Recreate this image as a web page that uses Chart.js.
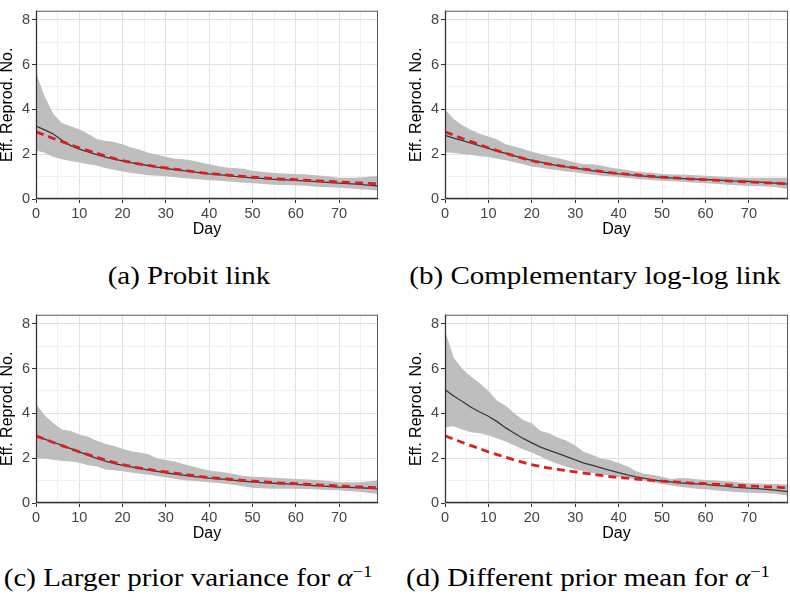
<!DOCTYPE html>
<html>
<head>
<meta charset="utf-8">
<script src="https://cdn.jsdelivr.net/npm/chart.js@4.4.0/dist/chart.umd.min.js"></script>
<style>
    body { margin: 0; background: #fff; width: 790px; height: 601px; position: relative; overflow: hidden; }
    .panel { position: absolute; }
    .cap {
        position: absolute; font-family: "Liberation Serif", serif; font-size: 25px; line-height: 1;
        color: #000; white-space: nowrap; transform: translateX(-50%) scaleX(1.16);
    }
</style>
</head>
<body>
<div class="panel" style="left:0px;top:0px;"><canvas id="pA" width="380" height="238"></canvas></div>
<div class="panel" style="left:409px;top:0px;"><canvas id="pB" width="381" height="238"></canvas></div>
<div class="panel" style="left:0px;top:304px;"><canvas id="pC" width="380" height="238"></canvas></div>
<div class="panel" style="left:409px;top:304px;"><canvas id="pD" width="381" height="238"></canvas></div>

<div class="cap" style="left:189px;top:263px;">(a) Probit link</div>
<div class="cap" style="left:595px;top:263px;">(b) Complementary log-log link</div>
<div class="cap" style="left:188px;top:564px;">(c) Larger prior variance for <i>α</i><sup style="font-size:16px;">−1</sup></div>
<div class="cap" style="left:588px;top:564px;">(d) Different prior mean for <i>α</i><sup style="font-size:16px;">−1</sup></div>

<script>
var days = [0, 2, 4, 6, 8, 10, 12, 14, 16, 18, 20, 22, 24, 26, 28, 30, 32, 34, 36, 38,
            40, 42, 44, 46, 48, 50, 52, 54, 56, 58, 60, 62, 64, 66, 68, 70, 72, 74, 76, 78, 79];
var xTicks = [0, 5, 10, 15, 20, 25, 30, 35, 40, 45, 50, 55, 60, 65, 70, 75];
var xLabels = [0, 10, 20, 30, 40, 50, 60, 70];
var yTicks = [0, 1, 2, 3, 4, 5, 6, 7, 8];
var yLabels = [0, 2, 4, 6, 8];

// true effective reproduction number (red dashed, same in every panel)
var trueR = [3.00, 2.85, 2.70, 2.56, 2.42, 2.28, 2.16, 2.04, 1.92, 1.81, 1.71, 1.63, 1.56, 1.50, 1.44, 1.39, 1.33, 1.28, 1.23, 1.18,
             1.14, 1.11, 1.07, 1.04, 1.01, 0.98, 0.95, 0.93, 0.90, 0.88, 0.86, 0.84, 0.82, 0.80, 0.78, 0.76, 0.74, 0.72, 0.71, 0.69, 0.68];

// (a) probit link
var probitMed = [3.25, 3.08, 2.90, 2.62, 2.38, 2.22, 2.10, 1.98, 1.87, 1.78, 1.70, 1.62, 1.55, 1.49, 1.42, 1.36, 1.31, 1.27, 1.22, 1.17,
                 1.12, 1.09, 1.05, 1.01, 0.98, 0.94, 0.92, 0.89, 0.87, 0.85, 0.83, 0.81, 0.79, 0.76, 0.73, 0.71, 0.69, 0.66, 0.63, 0.60, 0.58];
var probitHi = [5.63, 4.57, 3.79, 3.39, 3.25, 3.11, 2.91, 2.68, 2.60, 2.54, 2.44, 2.30, 2.20, 2.06, 1.97, 1.89, 1.80, 1.77, 1.72, 1.63,
                1.55, 1.47, 1.40, 1.37, 1.35, 1.26, 1.22, 1.18, 1.15, 1.13, 1.12, 1.10, 1.07, 1.04, 1.00, 0.95, 0.95, 0.95, 0.98, 1.01, 1.02];
var probitLo = [2.16, 2.06, 1.87, 1.77, 1.69, 1.63, 1.55, 1.49, 1.38, 1.30, 1.23, 1.16, 1.12, 1.06, 1.04, 1.01, 0.97, 0.94, 0.90, 0.87,
                0.84, 0.82, 0.79, 0.76, 0.73, 0.70, 0.68, 0.65, 0.63, 0.62, 0.61, 0.59, 0.56, 0.54, 0.52, 0.50, 0.48, 0.45, 0.42, 0.39, 0.38];

// (b) complementary log-log link
var cloglogMed = [2.84, 2.72, 2.60, 2.49, 2.37, 2.26, 2.14, 2.03, 1.92, 1.81, 1.72, 1.64, 1.56, 1.49, 1.43, 1.38, 1.32, 1.26, 1.21, 1.16,
                  1.12, 1.09, 1.05, 1.02, 0.99, 0.96, 0.94, 0.92, 0.90, 0.88, 0.87, 0.85, 0.83, 0.81, 0.80, 0.78, 0.76, 0.73, 0.71, 0.68, 0.67];
var cloglogHi = [4.00, 3.57, 3.29, 3.08, 2.91, 2.79, 2.65, 2.44, 2.34, 2.23, 2.11, 2.01, 1.91, 1.83, 1.73, 1.63, 1.55, 1.55, 1.49, 1.40,
                 1.35, 1.29, 1.23, 1.19, 1.16, 1.12, 1.10, 1.09, 1.08, 1.06, 1.04, 1.02, 0.99, 0.97, 0.96, 0.95, 0.95, 0.95, 0.95, 0.95, 0.95];
var cloglogLo = [2.09, 2.05, 2.01, 1.96, 1.91, 1.87, 1.80, 1.73, 1.64, 1.55, 1.45, 1.39, 1.33, 1.28, 1.23, 1.19, 1.14, 1.08, 1.04, 1.01,
                 0.98, 0.94, 0.90, 0.87, 0.84, 0.81, 0.79, 0.78, 0.75, 0.72, 0.70, 0.68, 0.65, 0.63, 0.60, 0.58, 0.57, 0.56, 0.53, 0.48, 0.45];

// (c) larger prior variance for 1/alpha
var widePriorMed = [2.99, 2.85, 2.71, 2.57, 2.43, 2.28, 2.14, 1.99, 1.87, 1.77, 1.68, 1.61, 1.54, 1.47, 1.41, 1.35, 1.29, 1.24, 1.19, 1.15,
                    1.11, 1.08, 1.05, 1.01, 0.97, 0.94, 0.91, 0.89, 0.87, 0.85, 0.83, 0.81, 0.78, 0.76, 0.73, 0.71, 0.70, 0.69, 0.67, 0.64, 0.63];
var widePriorHi = [4.42, 3.92, 3.56, 3.28, 3.21, 3.06, 2.96, 2.78, 2.64, 2.54, 2.42, 2.31, 2.25, 2.17, 1.99, 1.92, 1.85, 1.74, 1.64, 1.54,
                   1.45, 1.40, 1.35, 1.28, 1.21, 1.17, 1.16, 1.14, 1.12, 1.09, 1.07, 1.06, 1.04, 1.01, 0.97, 0.93, 0.93, 0.93, 0.95, 0.98, 1.00];
var widePriorLo = [1.99, 1.99, 1.92, 1.88, 1.85, 1.79, 1.68, 1.64, 1.50, 1.46, 1.42, 1.36, 1.31, 1.26, 1.21, 1.14, 1.08, 1.02, 0.99, 0.96,
                   0.93, 0.89, 0.85, 0.80, 0.74, 0.68, 0.66, 0.64, 0.64, 0.64, 0.64, 0.62, 0.61, 0.59, 0.58, 0.57, 0.54, 0.51, 0.47, 0.42, 0.40];

// (d) different prior mean for 1/alpha
var shiftPriorMed = [5.06, 4.77, 4.53, 4.27, 4.06, 3.87, 3.63, 3.35, 3.11, 2.88, 2.68, 2.49, 2.35, 2.21, 2.07, 1.92, 1.78, 1.68, 1.57, 1.45,
                     1.35, 1.25, 1.17, 1.10, 1.03, 0.97, 0.94, 0.90, 0.87, 0.85, 0.83, 0.79, 0.76, 0.72, 0.69, 0.66, 0.64, 0.61, 0.57, 0.53, 0.51];
var shiftPriorHi = [7.69, 6.48, 5.98, 5.63, 5.34, 5.01, 4.56, 4.34, 3.99, 3.70, 3.56, 3.21, 3.11, 2.92, 2.78, 2.56, 2.28, 2.14, 1.99, 1.92,
                    1.78, 1.64, 1.42, 1.31, 1.25, 1.17, 1.07, 1.12, 1.10, 1.06, 1.03, 1.01, 0.98, 0.96, 0.92, 0.88, 0.87, 0.86, 0.85, 0.84, 0.83];
var shiftPriorLo = [3.38, 3.42, 3.28, 3.16, 3.11, 3.02, 2.88, 2.74, 2.56, 2.39, 2.25, 2.07, 1.88, 1.74, 1.62, 1.50, 1.42, 1.34, 1.28, 1.22,
                    1.16, 1.11, 1.05, 0.99, 0.92, 0.85, 0.78, 0.72, 0.68, 0.64, 0.61, 0.57, 0.53, 0.50, 0.48, 0.46, 0.45, 0.44, 0.41, 0.36, 0.34];

function pts(vals) {
    return days.map(function (d, i) { return { x: d, y: vals[i] }; });
}

// ggplot-style panel border
var panelBorder = {
    id: 'panelBorder',
    afterDraw: function (chart) {
        var a = chart.chartArea, ctx = chart.ctx;
        ctx.save();
        ctx.strokeStyle = '#595959';
        ctx.lineWidth = 1;
        ctx.strokeRect(a.left + 0.5, a.top + 0.5, a.right - a.left - 1, a.bottom - a.top - 1);
        ctx.strokeStyle = '#333333';
        ctx.lineWidth = 1.3;
        ctx.beginPath();
        ctx.moveTo(a.left + 0.5, a.top);
        ctx.lineTo(a.left + 0.5, a.bottom - 0.5);
        ctx.lineTo(a.right, a.bottom - 0.5);
        ctx.stroke();
        ctx.restore();
    }
};

var tickFont = { family: 'Liberation Sans', size: 14.5 };
var titleFont = { family: 'Liberation Sans', size: 16, lineHeight: 1 };

function makePanel(id, med, lo, hi) {
    var ctx = document.getElementById(id).getContext('2d');
    new Chart(ctx, {
        type: 'line',
        data: {
            datasets: [{
                data: pts(trueR),
                borderColor: '#e01d1d',
                borderWidth: 2.8,
                borderDash: [8, 5],
                pointRadius: 0,
                fill: false,
                tension: 0.3
            }, {
                data: pts(med),
                borderColor: '#3a3a3a',
                borderWidth: 1.3,
                pointRadius: 0,
                fill: false
            }, {
                data: pts(hi),
                borderColor: 'rgba(0,0,0,0)',
                borderWidth: 0,
                backgroundColor: '#bebebe',
                pointRadius: 0,
                fill: '+1'
            }, {
                data: pts(lo),
                borderColor: 'rgba(0,0,0,0)',
                borderWidth: 0,
                pointRadius: 0,
                fill: false
            }]
        },
        options: {
            responsive: false,
            animation: false,
            layout: { padding: { top: 2, right: 2, left: 0, bottom: 0 } },
            plugins: {
                legend: { display: false },
                tooltip: { enabled: false }
            },
            scales: {
                x: {
                    type: 'linear',
                    min: 0,
                    max: 79,
                    afterBuildTicks: function (s) {
                        s.ticks = xTicks.map(function (v) { return { value: v }; });
                    },
                    afterFit: function (s) { s.height = 39; },
                    border: { display: false },
                    grid: {
                        color: function (c) { return xLabels.indexOf(c.tick.value) >= 0 ? '#e2e2e2' : '#f0f0f0'; },
                        tickColor: function (c) { return xLabels.indexOf(c.tick.value) >= 0 ? '#333333' : 'rgba(0,0,0,0)'; },
                        tickLength: 4
                    },
                    ticks: {
                        autoSkip: false,
                        maxRotation: 0,
                        padding: 2,
                        color: '#444444',
                        font: tickFont,
                        callback: function (v) { return xLabels.indexOf(v) >= 0 ? String(v) : ''; }
                    },
                    title: { display: true, text: 'Day', color: '#000', font: titleFont, padding: 0 }
                },
                y: {
                    min: 0,
                    max: 8.4,
                    afterBuildTicks: function (s) {
                        s.ticks = yTicks.map(function (v) { return { value: v }; });
                    },
                    afterFit: function (s) { s.width = 36; },
                    border: { display: false },
                    grid: {
                        color: function (c) { return yLabels.indexOf(c.tick.value) >= 0 ? '#e2e2e2' : '#f0f0f0'; },
                        tickColor: function (c) { return yLabels.indexOf(c.tick.value) >= 0 ? '#333333' : 'rgba(0,0,0,0)'; },
                        tickLength: 4
                    },
                    ticks: {
                        autoSkip: false,
                        padding: 2,
                        color: '#444444',
                        font: tickFont,
                        callback: function (v) { return yLabels.indexOf(v) >= 0 ? String(v) : ''; }
                    },
                    title: { display: true, text: 'Eff. Reprod. No.', color: '#000', font: titleFont, padding: 0 }
                }
            }
        },
        plugins: [panelBorder]
    });
}

makePanel('pA', probitMed, probitLo, probitHi);
makePanel('pB', cloglogMed, cloglogLo, cloglogHi);
makePanel('pC', widePriorMed, widePriorLo, widePriorHi);
makePanel('pD', shiftPriorMed, shiftPriorLo, shiftPriorHi);
</script>
</body>
</html>
